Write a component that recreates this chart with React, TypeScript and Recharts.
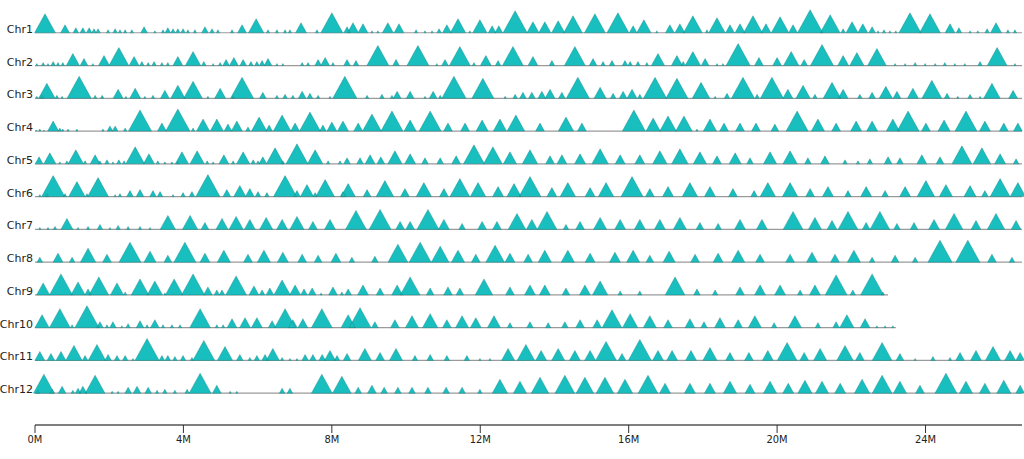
import { ScatterChart, Scatter, XAxis, YAxis, ZAxis, ReferenceLine } from 'recharts';

// chromosome rows, top to bottom
const chromosomes = ['Chr1', 'Chr2', 'Chr3', 'Chr4', 'Chr5', 'Chr6', 'Chr7', 'Chr8', 'Chr9', 'Chr10', 'Chr11', 'Chr12'];
// length drawn for each chromosome (M)
const chrLengths = [26.6, 26.6, 26.6, 26.6, 26.6, 26.6, 26.6, 26.6, 22.99, 23.2, 26.6, 26.6];
const xTicks = [0, 4, 8, 12, 16, 20, 24];

// peaks: [position (M), height]
const chr1Peaks = [
  [0.27, 19], [0.81, 8], [1.1, 5], [1.29, 5], [1.46, 5], [1.59, 4], [1.7, 4], [1.97, 3], [2.16, 4], [2.29, 3],
  [2.43, 3], [2.61, 3], [2.94, 6], [3.23, 2], [3.45, 3], [3.58, 5], [3.72, 4], [3.85, 4], [3.99, 4], [4.12, 3],
  [4.31, 3], [4.58, 6], [4.77, 4], [4.93, 3], [5.31, 3], [5.58, 8], [5.96, 14], [6.28, 3], [6.52, 3], [6.74, 3],
  [6.87, 3], [7.17, 10], [7.6, 3], [8.0, 20], [8.41, 6], [8.57, 10], [8.84, 9], [9.08, 2], [9.24, 2], [9.51, 10],
  [9.81, 9], [10.27, 3], [10.51, 2], [10.7, 2], [10.89, 4], [11.1, 8], [11.4, 14], [11.72, 2], [11.99, 13], [12.32, 7],
  [12.5, 7], [12.94, 22], [13.42, 11], [13.74, 11], [14.1, 12], [14.5, 17], [15.09, 19], [15.71, 20], [16.12, 7], [16.41, 13],
  [16.76, 2], [17.11, 8], [17.38, 9], [17.73, 17], [18.11, 3], [18.38, 15], [18.73, 8], [19.0, 9], [19.35, 17], [19.7, 9],
  [20.08, 16], [20.43, 8], [20.89, 23], [21.43, 18], [21.78, 4], [22.02, 11], [22.31, 9], [22.56, 6], [22.72, 2], [22.88, 3],
  [23.04, 2], [23.2, 2], [23.58, 20], [24.12, 19], [24.66, 9], [24.9, 5], [25.2, 2], [25.41, 2], [25.66, 4], [25.9, 10],
  [26.22, 3], [26.41, 3],
];
const chr2Peaks = [
  [0.05, 2], [0.22, 3], [0.35, 2], [0.49, 4], [0.62, 3], [0.75, 3], [1.02, 12], [1.32, 7], [1.56, 2], [1.86, 10],
  [2.26, 18], [2.67, 9], [2.88, 4], [3.05, 3], [3.21, 4], [3.42, 3], [3.58, 3], [3.85, 9], [4.26, 14], [4.55, 4],
  [4.8, 2], [4.99, 3], [5.15, 6], [5.36, 8], [5.61, 6], [5.82, 4], [5.98, 4], [6.12, 5], [6.28, 7], [6.52, 2],
  [6.68, 2], [7.2, 3], [7.36, 3], [7.63, 6], [7.82, 8], [8.03, 3], [8.41, 6], [8.65, 5], [9.24, 20], [9.73, 6],
  [10.32, 20], [10.83, 2], [11.05, 6], [11.45, 19], [11.83, 3], [12.15, 10], [12.48, 5], [12.88, 19], [13.42, 9], [13.93, 5],
  [14.55, 19], [15.04, 7], [15.31, 4], [15.55, 5], [15.9, 5], [16.04, 4], [16.25, 4], [16.49, 3], [16.79, 12], [17.3, 10],
  [17.47, 4], [17.73, 14], [18.06, 7], [18.38, 2], [18.54, 2], [18.95, 22], [19.51, 8], [20.0, 8], [20.38, 14], [20.73, 6],
  [21.21, 21], [21.78, 10], [22.15, 13], [22.69, 17], [23.18, 2], [23.45, 2], [23.72, 3], [23.99, 2], [24.26, 2], [24.52, 3],
  [24.79, 2], [25.06, 2], [25.47, 4], [25.93, 18], [26.41, 2],
];
const chr3Peaks = [
  [0.05, 2], [0.19, 3], [0.32, 15], [0.59, 3], [0.73, 2], [1.19, 22], [1.62, 3], [1.81, 3], [2.24, 9], [2.45, 2],
  [2.7, 10], [2.96, 2], [3.18, 3], [3.5, 8], [3.85, 13], [4.26, 17], [4.66, 2], [4.99, 10], [5.34, 2], [5.58, 21],
  [6.14, 6], [6.52, 3], [6.74, 4], [6.95, 3], [7.2, 7], [7.41, 5], [7.63, 3], [7.95, 2], [8.35, 22], [8.95, 3],
  [9.35, 4], [9.62, 3], [9.76, 7], [10.11, 7], [10.51, 2], [10.73, 7], [10.92, 3], [11.29, 22], [12.07, 20], [12.67, 2],
  [12.94, 4], [13.15, 6], [13.39, 6], [13.66, 7], [13.88, 9], [14.2, 6], [14.63, 21], [15.23, 11], [15.58, 5], [15.85, 7],
  [16.09, 9], [16.3, 4], [16.71, 21], [17.3, 20], [17.95, 16], [18.33, 2], [18.65, 5], [19.08, 21], [19.46, 4], [19.86, 21],
  [20.29, 9], [20.7, 13], [21.02, 4], [21.48, 16], [21.78, 9], [22.23, 4], [22.56, 6], [22.93, 12], [23.23, 7], [23.66, 10],
  [24.17, 18], [24.58, 5], [24.87, 2], [25.2, 4], [25.47, 2], [25.79, 15], [26.36, 8],
];
const chr4Peaks = [
  [0.03, 1], [0.13, 2], [0.24, 1], [0.49, 10], [0.67, 3], [0.75, 2], [0.89, 2], [1.13, 2], [1.83, 2], [2.02, 5],
  [2.16, 5], [2.43, 3], [2.83, 21], [3.42, 8], [3.85, 22], [4.26, 3], [4.53, 12], [4.9, 12], [5.2, 7], [5.44, 10],
  [5.74, 4], [6.04, 14], [6.31, 6], [6.66, 16], [7.01, 8], [7.41, 19], [7.76, 6], [8.0, 9], [8.3, 10], [8.71, 8],
  [9.08, 17], [9.62, 20], [10.11, 11], [10.65, 20], [11.13, 8], [11.59, 8], [12.05, 11], [12.53, 12], [12.96, 16], [13.61, 8],
  [14.31, 14], [14.74, 8], [16.14, 21], [16.66, 13], [17.06, 15], [17.49, 15], [17.84, 2], [18.19, 12], [18.57, 8], [19.0, 8],
  [19.43, 8], [19.94, 7], [20.54, 20], [21.1, 12], [21.59, 8], [22.13, 10], [22.56, 10], [23.12, 12], [23.53, 20], [24.01, 8],
  [24.5, 11], [25.09, 20], [25.6, 10], [26.11, 8], [26.49, 8],
];
const chr5Peaks = [
  [0.11, 7], [0.4, 11], [0.67, 2], [0.86, 3], [1.1, 14], [1.35, 3], [1.62, 9], [1.75, 3], [1.94, 4], [2.1, 2],
  [2.26, 4], [2.4, 3], [2.7, 17], [3.07, 10], [3.31, 3], [3.5, 2], [3.69, 2], [3.85, 2], [3.96, 12], [4.37, 13],
  [4.64, 3], [4.8, 2], [5.09, 9], [5.34, 3], [5.61, 12], [5.88, 4], [6.01, 3], [6.14, 7], [6.47, 16], [6.68, 3],
  [7.06, 20], [7.55, 14], [7.9, 3], [8.22, 3], [8.41, 6], [8.76, 6], [9.03, 9], [9.32, 7], [9.7, 13], [10.11, 10],
  [10.51, 6], [10.92, 6], [11.35, 8], [11.83, 19], [12.34, 17], [12.8, 12], [13.34, 14], [13.88, 8], [14.2, 9], [14.69, 10],
  [15.23, 15], [15.77, 9], [16.3, 9], [16.84, 13], [17.38, 15], [17.92, 12], [18.38, 8], [18.87, 11], [19.27, 6], [19.81, 12],
  [20.35, 13], [20.83, 6], [21.29, 8], [21.83, 4], [22.18, 3], [22.5, 5], [22.99, 7], [23.31, 6], [23.9, 9], [24.39, 7],
  [24.98, 18], [25.52, 16], [26.01, 10], [26.44, 5],
];
const chr6Peaks = [
  [0.13, 2], [0.32, 3], [0.49, 21], [0.81, 3], [1.13, 15], [1.4, 3], [1.7, 19], [2.16, 2], [2.29, 3], [2.56, 6],
  [2.83, 7], [3.18, 6], [3.37, 5], [3.72, 2], [3.99, 4], [4.23, 5], [4.66, 22], [5.17, 7], [5.52, 11], [5.79, 8],
  [6.01, 5], [6.25, 4], [6.74, 21], [7.06, 6], [7.33, 12], [7.55, 4], [7.82, 17], [8.3, 5], [8.44, 13], [8.95, 7],
  [9.43, 16], [9.97, 8], [10.48, 14], [11.02, 8], [11.45, 18], [11.94, 14], [12.48, 10], [12.91, 13], [13.34, 20], [13.93, 9],
  [14.36, 14], [14.96, 9], [15.39, 14], [16.09, 20], [16.57, 8], [17.06, 10], [17.65, 14], [18.19, 10], [18.81, 8], [19.38, 6],
  [19.75, 14], [20.35, 14], [20.89, 8], [21.37, 10], [21.91, 6], [22.4, 10], [22.91, 6], [23.45, 10], [24.01, 16], [24.55, 12],
  [25.2, 11], [25.6, 6], [26.01, 18], [26.49, 14],
];
const chr7Peaks = [
  [0.13, 2], [0.35, 2], [0.54, 3], [0.86, 11], [1.16, 2], [1.43, 3], [1.75, 5], [2.02, 2], [2.24, 4], [2.51, 3],
  [2.83, 3], [3.1, 2], [3.58, 14], [4.18, 14], [4.58, 7], [5.04, 11], [5.42, 13], [5.79, 10], [6.23, 12], [6.66, 10],
  [7.06, 13], [7.49, 8], [7.95, 10], [8.65, 19], [9.3, 20], [9.84, 8], [10.11, 8], [10.59, 20], [11.02, 10], [11.51, 6],
  [12.05, 8], [12.45, 8], [12.99, 16], [13.39, 10], [13.8, 18], [14.31, 5], [14.69, 8], [15.23, 12], [15.77, 10], [16.3, 10],
  [16.84, 10], [17.38, 12], [17.92, 7], [18.41, 6], [19.0, 10], [19.59, 10], [20.43, 18], [21.02, 12], [21.48, 9], [21.91, 18],
  [22.4, 7], [22.77, 18], [23.23, 6], [23.69, 7], [24.23, 10], [24.77, 16], [25.36, 9], [25.9, 16], [26.44, 9],
];
const chr8Peaks = [
  [0.13, 5], [0.62, 9], [1.0, 5], [1.43, 14], [1.94, 8], [2.56, 20], [3.1, 11], [3.58, 7], [4.04, 20], [4.58, 9],
  [5.09, 12], [5.74, 8], [6.17, 12], [6.68, 10], [7.2, 8], [7.63, 7], [8.11, 9], [8.54, 5], [9.16, 6], [9.78, 18],
  [10.38, 20], [10.92, 16], [11.4, 12], [11.88, 8], [12.4, 17], [12.8, 9], [13.29, 8], [13.74, 12], [14.36, 12], [14.96, 9],
  [15.63, 10], [16.12, 12], [16.57, 7], [17.09, 11], [17.79, 8], [18.41, 9], [18.95, 12], [19.54, 8], [20.35, 8], [20.94, 10],
  [21.56, 8], [22.07, 12], [22.56, 5], [23.18, 7], [23.72, 5], [24.39, 22], [25.14, 22], [25.79, 8], [26.33, 5],
];
const chr9Peaks = [
  [0.22, 12], [0.7, 21], [1.16, 13], [1.43, 6], [1.72, 18], [2.21, 12], [2.43, 3], [2.83, 16], [3.23, 14], [3.5, 2],
  [3.75, 16], [4.26, 21], [4.66, 8], [4.9, 5], [5.04, 5], [5.42, 19], [5.9, 9], [6.12, 5], [6.33, 7], [6.66, 15],
  [7.01, 10], [7.25, 6], [7.47, 7], [7.71, 2], [8.03, 8], [8.27, 3], [8.44, 6], [8.84, 10], [9.3, 7], [9.76, 10],
  [10.11, 18], [10.65, 7], [11.13, 8], [11.45, 7], [12.1, 16], [12.8, 8], [13.34, 10], [13.74, 10], [14.31, 7], [14.82, 10],
  [15.23, 14], [15.77, 4], [16.3, 4], [17.25, 18], [17.84, 6], [18.33, 5], [19.0, 8], [19.54, 10], [20.08, 10], [20.62, 5],
  [21.02, 10], [21.59, 20], [22.04, 5], [22.56, 21], [22.85, 3],
];
const chr10Peaks = [
  [0.19, 13], [0.67, 19], [1.0, 3], [1.4, 22], [1.75, 6], [1.94, 3], [2.1, 6], [2.34, 2], [2.51, 4], [2.83, 7],
  [3.02, 3], [3.23, 8], [3.45, 3], [3.69, 3], [3.91, 3], [4.45, 19], [4.9, 3], [5.07, 3], [5.31, 9], [5.66, 10],
  [5.98, 10], [6.39, 7], [6.74, 19], [6.95, 8], [7.22, 9], [7.73, 19], [8.44, 13], [8.76, 20], [9.16, 6], [9.7, 8],
  [10.16, 12], [10.65, 14], [11.1, 8], [11.51, 12], [11.88, 10], [12.37, 12], [12.8, 5], [13.34, 6], [13.83, 5], [14.28, 6],
  [14.69, 8], [15.15, 8], [15.55, 18], [16.04, 14], [16.57, 12], [17.06, 8], [17.65, 9], [18.03, 6], [18.46, 10], [18.95, 8],
  [19.4, 12], [19.92, 5], [20.48, 12], [21.1, 5], [21.59, 6], [21.88, 13], [22.37, 9], [22.69, 2], [22.91, 2], [23.12, 2],
];
const chr11Peaks = [
  [0.13, 9], [0.43, 7], [0.7, 9], [1.05, 15], [1.35, 5], [1.67, 16], [1.97, 6], [2.21, 5], [2.43, 5], [2.64, 2],
  [3.02, 22], [3.42, 5], [3.58, 5], [3.77, 4], [3.99, 5], [4.23, 3], [4.55, 20], [5.12, 14], [5.52, 6], [5.79, 3],
  [5.98, 5], [6.2, 6], [6.41, 12], [6.66, 3], [6.87, 2], [7.06, 2], [7.28, 6], [7.49, 6], [7.74, 6], [7.95, 10],
  [8.14, 5], [8.41, 7], [8.89, 12], [9.3, 8], [9.73, 12], [10.24, 5], [10.65, 6], [11.1, 5], [11.64, 5], [11.99, 2],
  [12.26, 2], [12.75, 12], [13.23, 16], [13.64, 10], [14.1, 12], [14.55, 10], [14.96, 10], [15.39, 19], [15.82, 7], [16.3, 21],
  [16.79, 10], [17.17, 10], [17.68, 10], [18.19, 13], [18.73, 8], [19.24, 8], [19.75, 10], [20.27, 18], [20.73, 8], [21.16, 12],
  [21.83, 15], [22.23, 8], [22.83, 18], [23.31, 7], [23.72, 2], [24.2, 4], [24.66, 3], [24.93, 8], [25.36, 10], [25.82, 14],
  [26.28, 10], [26.55, 8],
];
const chr12Peaks = [
  [0.08, 3], [0.24, 19], [0.46, 4], [0.73, 7], [1.02, 3], [1.16, 5], [1.29, 7], [1.62, 18], [2.08, 2], [2.24, 2],
  [2.51, 6], [2.75, 7], [3.05, 6], [3.29, 3], [3.5, 4], [3.77, 3], [4.1, 4], [4.45, 20], [4.9, 8], [5.26, 2],
  [5.44, 2], [6.66, 5], [6.87, 5], [7.73, 19], [8.27, 17], [8.71, 6], [9.08, 8], [9.41, 6], [9.78, 6], [10.16, 6],
  [10.59, 6], [11.08, 6], [11.51, 6], [11.99, 4], [12.53, 14], [13.07, 12], [13.61, 16], [14.28, 18], [14.82, 16], [15.36, 16],
  [15.9, 14], [16.52, 18], [16.98, 10], [17.65, 10], [18.19, 10], [18.73, 12], [19.27, 9], [19.81, 12], [20.3, 10], [20.75, 13],
  [21.21, 12], [21.7, 10], [22.29, 14], [22.83, 18], [23.31, 12], [23.85, 8], [24.55, 20], [25.09, 12], [25.6, 10], [26.11, 13],
  [26.55, 8],
];

const allPeaks = [
  chr1Peaks, chr2Peaks, chr3Peaks, chr4Peaks, chr5Peaks, chr6Peaks,
  chr7Peaks, chr8Peaks, chr9Peaks, chr10Peaks, chr11Peaks, chr12Peaks,
];

const peakData = allPeaks.flatMap((peaks, i) =>
  peaks.map(([pos, h]) => ({ pos, row: i + 1, h }))
);

const FILL = '#19bebe';
const EDGE = '#0f7475';

// triangle standing on the chromosome line, height taken from the z scale
function Peak(props: any) {
  const { cx, cy, size, width, edge } = props;
  const h = typeof size === 'number' ? size : Math.PI * (width / 2) ** 2;
  const w = h * 0.55;
  const d = `M${cx - w},${cy}L${cx},${cy - h}L${cx + w},${cy}Z`;
  if (edge) {
    return <path d={d} fill="none" stroke={EDGE} strokeOpacity={0.55} strokeWidth={0.6} />;
  }
  return <path d={d} fill={FILL} stroke="none" />;
}

function RowTick(props: any) {
  const { x, y, payload } = props;
  return (
    <text x={x} y={y} textAnchor="end" fontSize={11} fontFamily="DejaVu Sans, sans-serif" fill="#222">
      {chromosomes[payload.value - 1]}
    </text>
  );
}

export default function App() {
  return (
    <div style={{ position: 'absolute', left: 0, top: 0 }}>
      <ScatterChart width={1024} height={459} margin={{ top: 0, right: 2, bottom: 0, left: 0 }}>
        <XAxis
          type="number"
          dataKey="pos"
          domain={[0, 26.6]}
          ticks={xTicks}
          interval={0}
          tickFormatter={(v) => `${v}M`}
          height={34}
          tickSize={8}
          tickMargin={2}
          stroke="#333"
          axisLine={{ stroke: '#555', strokeWidth: 1.5 }}
          tick={{ fontSize: 11, fill: '#222', fontFamily: "'DejaVu Sans Condensed', 'DejaVu Sans', sans-serif", style: { fontStretch: 'condensed' } }}
        />
        <YAxis
          type="number"
          dataKey="row"
          domain={[0, 12.97]}
          reversed
          ticks={chromosomes.map((_, i) => i + 1)}
          interval={0}
          width={35}
          axisLine={false}
          tickLine={false}
          tickSize={0}
          tickMargin={2}
          tick={<RowTick />}
        />
        <ZAxis type="number" dataKey="h" domain={[0, 25]} range={[0, 25]} />
        {chrLengths.map((len, i) => (
          <ReferenceLine
            key={chromosomes[i]}
            segment={[{ x: 0, y: i + 1 }, { x: len, y: i + 1 }]}
            stroke="#9a9a9a"
            strokeWidth={1.2}
          />
        ))}
        <Scatter data={peakData} isAnimationActive={false} shape={(p: any) => <Peak {...p} />} />
        <Scatter data={peakData} isAnimationActive={false} shape={(p: any) => <Peak {...p} edge />} />
      </ScatterChart>
    </div>
  );
}
